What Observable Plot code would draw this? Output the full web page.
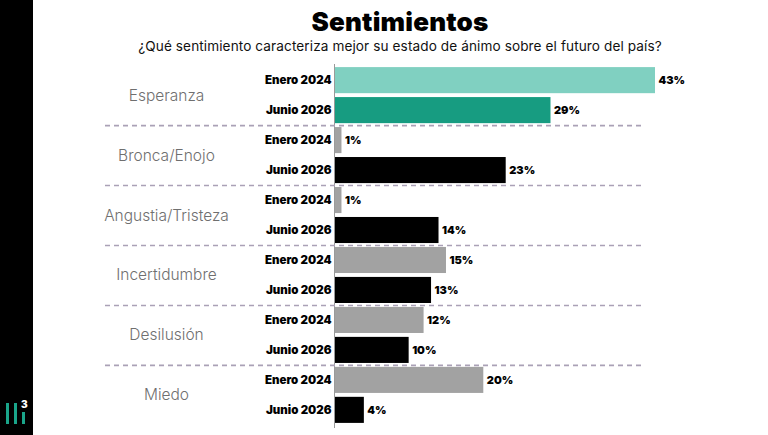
<!DOCTYPE html>
<html>
<head>
<meta charset="utf-8">
<script src="https://cdn.jsdelivr.net/npm/d3@7"></script>
<script src="https://cdn.jsdelivr.net/npm/@observablehq/plot@0.6"></script>
<style>
  html, body { margin: 0; padding: 0; background: #fff; }
  #page { position: relative; width: 768px; height: 435px; overflow: hidden; background: #fff; font-family: Inter, "Open Sans", sans-serif; }
  #strip { position: absolute; left: 0; top: 0; width: 33px; height: 435px; background: #000; }
  #logo { position: absolute; left: 4px; top: 398px; }
  #title { position: absolute; left: 32px; width: 736px; top: 6px; text-align: center; font-size: 26px; font-weight: 900; color: #000; letter-spacing: 0.2px; }
  #subtitle { position: absolute; left: 32px; width: 736px; top: 38px; text-align: center; font-size: 13.6px; color: #111; letter-spacing: 0.1px; }
  #chart { position: absolute; left: 0; top: 0; }
</style>
</head>
<body>
<div id="page">
  <div id="strip"></div>
  <svg id="logo" width="26" height="28" viewBox="0 0 26 28">
    <rect x="2" y="5" width="3" height="21" fill="#1aa58a"/>
    <rect x="10" y="5" width="3" height="21" fill="#1aa58a"/>
    <rect x="18" y="14" width="3" height="12" fill="#1aa58a"/>
    <text x="17" y="10" font-size="10" font-weight="900" fill="#fff" font-family="Inter, sans-serif">3</text>
  </svg>
  <div id="chart"></div>
  <div id="title">Sentimientos</div>
  <div id="subtitle">¿Qué sentimiento caracteriza mejor su estado de ánimo sobre el futuro del país?</div>
</div>
<script>
const categories = ["Esperanza", "Bronca/Enojo", "Angustia/Tristeza", "Incertidumbre", "Desilusión", "Miedo"];
const periods = ["Enero 2024", "Junio 2026"];
const enero2024 = [43, 1, 1, 15, 12, 20];
const junio2026 = [29, 23, 14, 13, 10, 4];

// Esperanza is highlighted in teal; the rest use grey (2024) and black (2026)
const highlightColors = ["#80d0c1", "#179c81"];
const baseColors = ["#a2a2a2", "#000000"];

const rows = categories.flatMap((category, i) =>
  periods.map((period, j) => ({
    category,
    period,
    key: category + "|" + period,
    value: j === 0 ? enero2024[i] : junio2026[i],
    color: (i === 0 ? highlightColors : baseColors)[j]
  }))
);

const firstOfGroup = rows.filter(d => d.period === periods[0]);
const separators = rows.filter(d => d.period === periods[1] && d.category !== categories[categories.length - 1]);

const chart = Plot.plot({
  width: 768,
  height: 435,
  marginTop: 65,
  marginBottom: 10,
  marginLeft: 334,
  marginRight: 113,
  style: { background: "transparent", fontFamily: "Inter, sans-serif" },
  x: { domain: [0, 43], axis: null },
  y: { domain: rows.map(d => d.key), paddingInner: 0.13, paddingOuter: 0.07, round: false, axis: null },
  color: { type: "identity" },
  marks: [
    Plot.barX(rows, { x: "value", y: "key", fill: "color" }),
    Plot.ruleX([0], { stroke: "#9a9a9a", strokeWidth: 1, insetBottom: -3, insetTop: -1 }),
    Plot.ruleY(separators, {
      y: "key", dy: 15, stroke: "#aaa1b6", strokeWidth: 1.6, strokeDasharray: "5,4",
      insetLeft: -229, insetRight: 13
    }),
    Plot.text(rows, {
      x: "value", y: "key", text: d => d.value + "%", textAnchor: "start", dx: 3,
      fontSize: 11, fontWeight: 900, fill: "#000"
    }),
    Plot.text(rows, {
      y: "key", text: "period", frameAnchor: "left", textAnchor: "end", dx: -3,
      fontSize: 11.5, fontWeight: 900, fill: "#000"
    }),
    Plot.text(firstOfGroup, {
      y: "key", text: "category", frameAnchor: "left", textAnchor: "middle", dx: -168, dy: 15,
      fontSize: 15.5, fontWeight: 300, fill: "#6f6f6f"
    })
  ]
});
document.getElementById("chart").appendChild(chart);
</script>
</body>
</html>
